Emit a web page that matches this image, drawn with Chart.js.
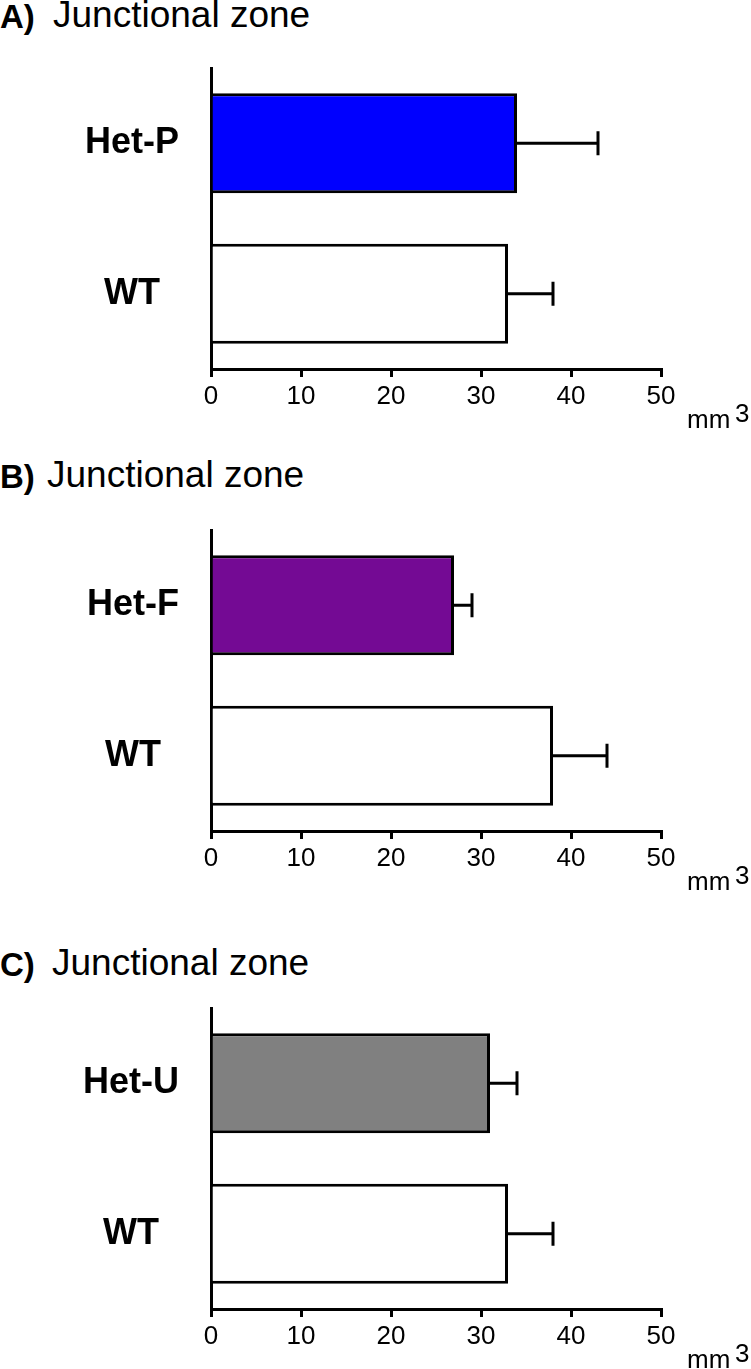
<!DOCTYPE html>
<html><head><meta charset="utf-8">
<script src="https://cdn.jsdelivr.net/npm/chart.js@4.4.0/dist/chart.umd.min.js"></script>
<style>
html,body{margin:0;padding:0;background:#fff;}
#wrap{position:relative;width:751px;height:1369px;overflow:hidden;font-family:"Liberation Sans",Arial,sans-serif;color:#000;background:#fff;}
canvas{position:absolute;left:0;}
.t{position:absolute;font-size:37px;line-height:37px;white-space:nowrap;}
.tb{font-weight:bold;font-size:33px;line-height:33px;}
.u{position:absolute;font-size:26px;line-height:26px;white-space:nowrap;}
</style></head><body>
<div id="wrap">
  <span class="t tb" style="left:0;top:-0.5px">A)</span><span class="t" style="left:53px;top:-4px">Junctional zone</span>
  <span class="t tb" style="left:0;top:459.5px">B)</span><span class="t" style="left:47px;top:456px">Junctional zone</span>
  <span class="t tb" style="left:0;top:947.5px">C)</span><span class="t" style="left:52px;top:944px">Junctional zone</span>
  <canvas id="cA" width="751" height="356" style="top:58px"></canvas>
  <canvas id="cB" width="751" height="356" style="top:520px"></canvas>
  <canvas id="cC" width="751" height="356" style="top:998px"></canvas>
  <span class="u" style="left:687px;top:406px">mm</span><span class="u" style="left:735px;top:400px">3</span>
  <span class="u" style="left:687px;top:868px">mm</span><span class="u" style="left:735px;top:862px">3</span>
  <span class="u" style="left:687px;top:1346px">mm</span><span class="u" style="left:735px;top:1340px">3</span>
</div>
<script>
// ---- data ----
const categoriesA = ['Het-P', 'WT'];
const valuesA = [34, 33];
const errorsA = [9, 5];
const categoriesB = ['Het-F', 'WT'];
const valuesB = [27, 38];
const errorsB = [2, 6];
const categoriesC = ['Het-U', 'WT'];
const valuesC = [31, 33];
const errorsC = [3, 5];
const xTicks = [0, 10, 20, 30, 40, 50];

// ---- styles ----
const FONT = '"Liberation Sans", Arial, sans-serif';

const errorBars = {
  id: 'errorBars',
  afterDatasetsDraw(chart) {
    const ctx = chart.ctx;
    const xs = chart.scales.x;
    const ds = chart.data.datasets[0];
    const meta = chart.getDatasetMeta(0);
    ctx.save();
    ctx.strokeStyle = '#000';
    ctx.lineWidth = 3;
    ctx.lineCap = 'butt';
    meta.data.forEach((bar, i) => {
      const v = ds.data[i];
      const x0 = xs.getPixelForValue(v);
      const x1 = xs.getPixelForValue(v + ds.errors[i]);
      const y = bar.y;
      ctx.beginPath();
      ctx.moveTo(x0, y); ctx.lineTo(x1, y);
      ctx.moveTo(x1, y - 12); ctx.lineTo(x1, y + 12);
      ctx.stroke();
    });
    ctx.restore();
  }
};

function makeChart(id, cats, vals, errs, hetColor) {
  return new Chart(document.getElementById(id), {
    type: 'bar',
    data: {
      labels: cats,
      datasets: [{
        data: vals,
        errors: errs,
        backgroundColor: [hetColor, '#ffffff'],
        borderColor: '#000',
        borderWidth: 3,
        borderSkipped: 'start',
        barPercentage: 0.664,
        categoryPercentage: 1.0
      }]
    },
    options: {
      indexAxis: 'y',
      responsive: false,
      animation: false,
      events: [],
      layout: { padding: { left: 0, right: 90, top: 10, bottom: 0 } },
      plugins: { legend: { display: false }, tooltip: { enabled: false }, title: { display: false } },
      scales: {
        x: {
          type: 'linear',
          min: 0, max: 50,
          afterBuildTicks: (s) => { s.ticks = xTicks.map(v => ({ value: v })); },
          afterFit: (s) => { s.height = 45; s.paddingLeft = 0; s.paddingRight = 0; },
          border: { display: true, color: '#000', width: 3 },
          grid: { display: true, drawOnChartArea: false, drawTicks: true, tickLength: 8, color: '#000', lineWidth: 3 },
          ticks: { color: '#000', font: { family: FONT, size: 26 }, padding: 4, maxRotation: 0 }
        },
        y: {
          afterFit: (s) => { s.width = 211; s.paddingTop = 0; s.paddingBottom = 0; },
          border: { display: true, color: '#000', width: 3 },
          grid: { display: true, drawOnChartArea: false, drawTicks: false },
          ticks: { color: '#000', font: { family: FONT, size: 36, weight: 'bold' }, padding: 32, crossAlign: 'center' }
        }
      }
    },
    plugins: [errorBars]
  });
}

makeChart('cA', categoriesA, valuesA, errorsA, '#0000ff');
makeChart('cB', categoriesB, valuesB, errorsB, '#740a94');
makeChart('cC', categoriesC, valuesC, errorsC, '#808080');
</script>
</body></html>
